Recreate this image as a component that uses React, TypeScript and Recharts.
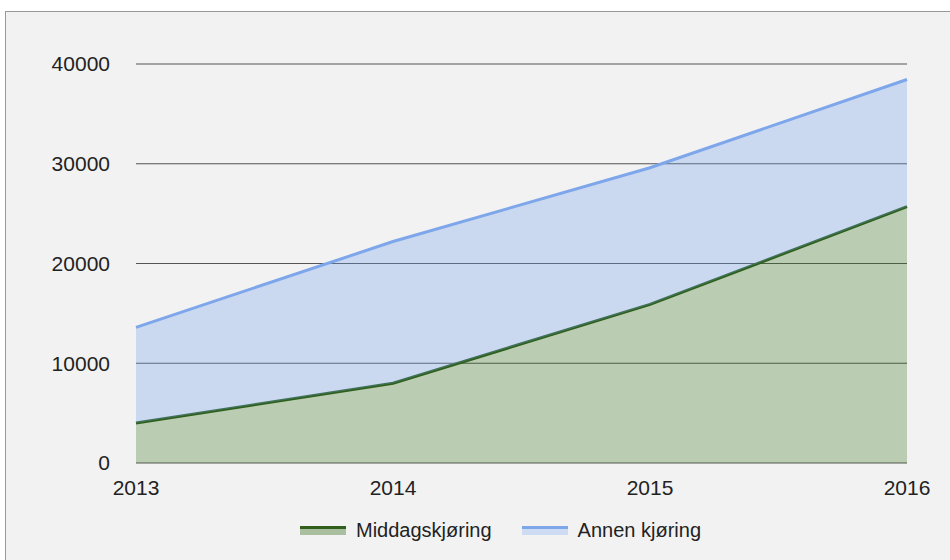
import React from 'react';
import { AreaChart, Area, XAxis, YAxis, CartesianGrid } from 'recharts';

const years = ['2013', '2014', '2015', '2016'];
// stacked: Annen kjøring sits on top of Middagskjøring
const middagskjoring = [4000, 8000, 15900, 25700];
const annenKjoring = [9600, 14200, 13700, 12750];
const yTicks = [0, 10000, 20000, 30000, 40000];

const data = years.map((year, i) => ({
  year,
  middag: middagskjoring[i],
  annen: annenKjoring[i],
}));

const FONT = '"Liberation Sans", Arial, Helvetica, sans-serif';

const LegendItem: React.FC<{ line: string; fill: string; label: string }> = ({ line, fill, label }) => (
  <div style={{ display: 'flex', alignItems: 'center', marginRight: 30 }}>
    <div style={{ width: 46, marginRight: 10 }}>
      <div style={{ height: 3, background: line }} />
      <div style={{ height: 6, background: fill }} />
    </div>
    <span>{label}</span>
  </div>
);

export default function App() {
  return (
    <div
      style={{
        position: 'fixed',
        left: 0,
        top: 0,
        width: 950,
        height: 560,
        background: '#ffffff',
        overflow: 'hidden',
        fontFamily: FONT,
      }}
    >
      <div
        style={{
          position: 'absolute',
          left: 5,
          top: 11,
          width: 960,
          height: 560,
          background: '#f2f2f2',
          borderLeft: '1px solid #999',
          borderTop: '1px solid #999',
        }}
      />
      <div style={{ position: 'absolute', left: 0, top: 0 }}>
        <AreaChart
          width={950}
          height={560}
          data={data}
          margin={{ top: 64, right: 43, left: 0, bottom: 67 }}
        >
          <CartesianGrid vertical={false} stroke="#555" strokeWidth={1} />
          <XAxis
            dataKey="year"
            height={30}
            axisLine={false}
            tickLine={false}
            tickSize={0}
            tickMargin={17}
            tick={{ fill: '#222', fontSize: 21, fontFamily: FONT }}
            interval={0}
          />
          <YAxis
            width={136}
            domain={[0, 40000]}
            ticks={yTicks}
            axisLine={false}
            tickLine={false}
            tickSize={0}
            tickMargin={26}
            tick={{ fill: '#222', fontSize: 21, fontFamily: FONT }}
          />
          <Area
            type="linear"
            dataKey="middag"
            stackId="a"
            stroke="#2f5f1b"
            strokeWidth={3}
            fill="#38761d"
            fillOpacity={0.3}
            isAnimationActive={false}
            dot={false}
            activeDot={false}
          />
          <Area
            type="linear"
            dataKey="annen"
            stackId="a"
            stroke="#7ea6ea"
            strokeWidth={3}
            fill="#6d9eeb"
            fillOpacity={0.3}
            isAnimationActive={false}
            dot={false}
            activeDot={false}
          />
        </AreaChart>
      </div>
      <div
        style={{
          position: 'absolute',
          left: 300,
          top: 519,
          display: 'flex',
          fontSize: 20,
          color: '#222',
        }}
      >
        <LegendItem line="#2f5f1b" fill="#a9bfa0" label="Middagskjøring" />
        <LegendItem line="#7ea6ea" fill="#cddbf3" label="Annen kjøring" />
      </div>
    </div>
  );
}
